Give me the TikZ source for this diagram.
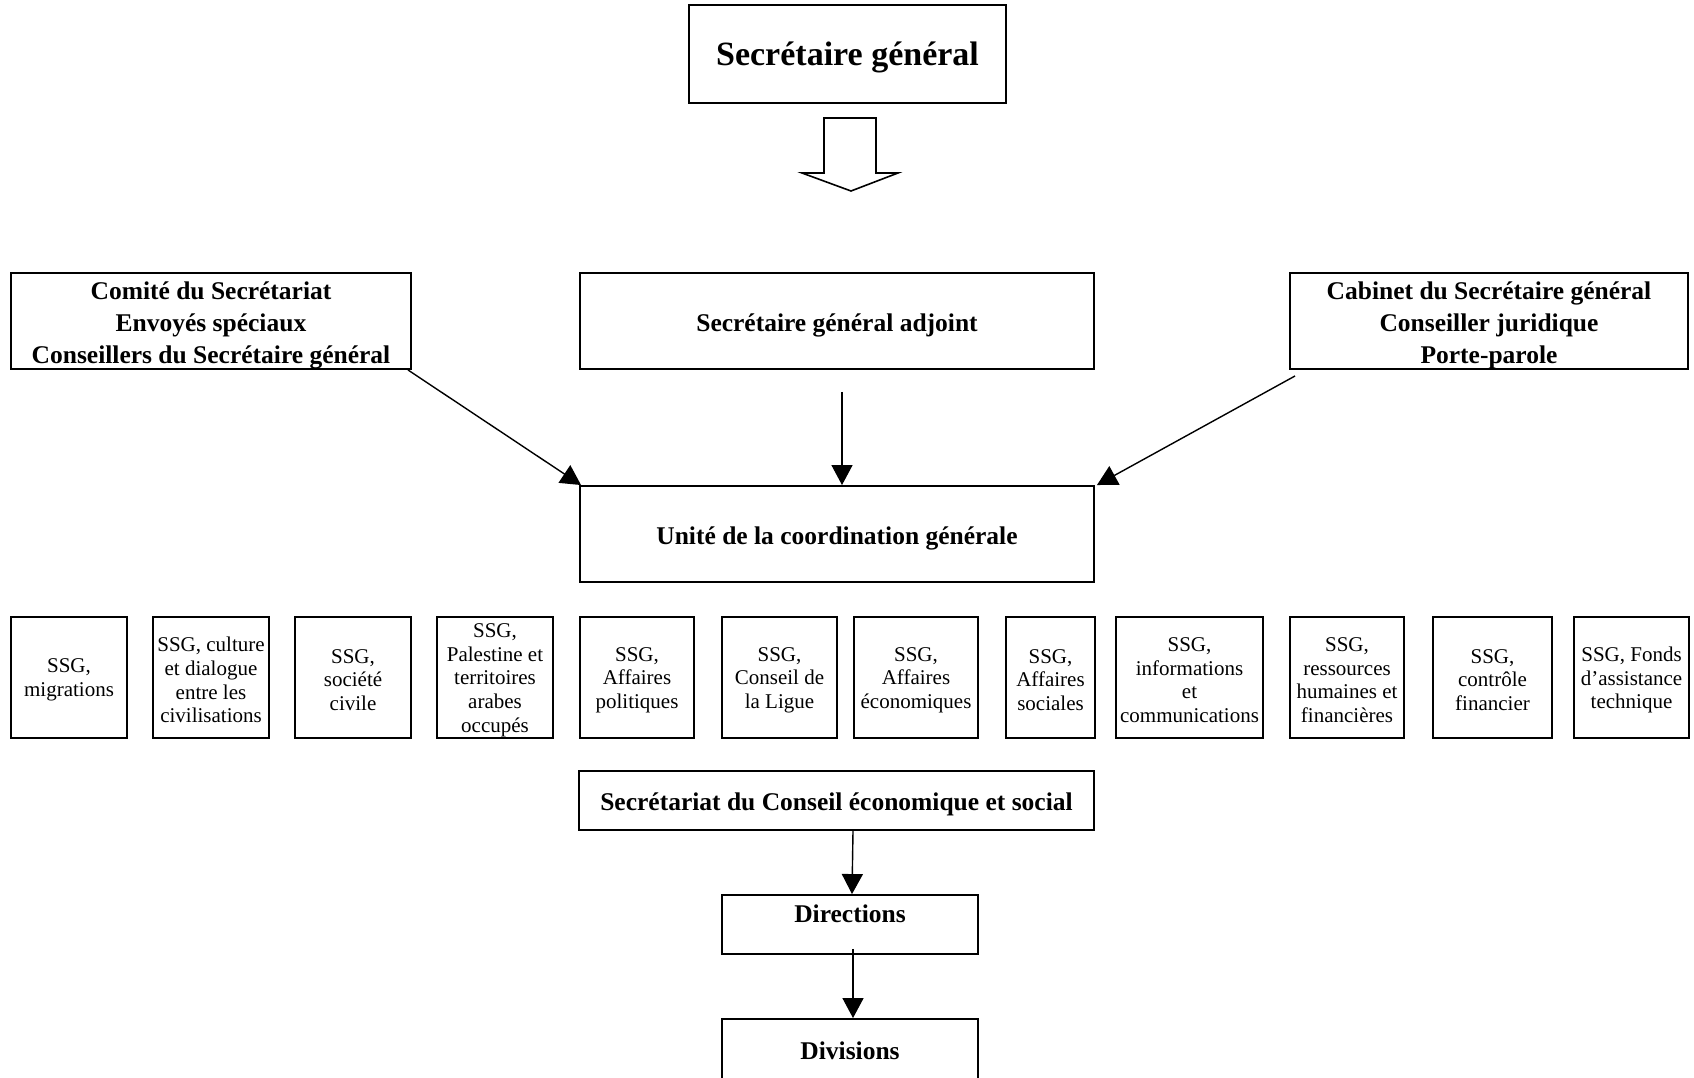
\documentclass[tikz,border=0pt]{standalone}
\usepackage{fontspec}
\setmainfont{Liberation Serif}
\usetikzlibrary{arrows.meta}
\begin{document}
\begin{tikzpicture}[x=1pt,y=-1pt,
  bx/.style n args={2}{draw,line width=1.9pt,inner sep=0pt,
     minimum width=#1 pt,minimum height=#2 pt},
  txt/.style={inner sep=0pt,align=center},
  bold/.style={txt,font=\bfseries\fontsize{25.5}{32}\selectfont,yshift=-4.3pt},
  small/.style={txt,font=\fontsize{21}{23.6}\selectfont,yshift=-2.6pt},
  arr/.style={line width=1.4pt,-{Triangle[length=20pt,width=21pt]}}]
\useasboundingbox (0,0) rectangle (1694,1078);
\fill[white] (0,0) rectangle (1694,1078);
\clip (0,0) rectangle (1694,1078);

% top
\node[bx={317}{98}] (sg) at (847.5,54) {};
\node[txt,font=\bfseries\fontsize{34}{40}\selectfont,yshift=-3.2pt] (sgT) at (sg) {Secrétaire général};
\draw[line width=1.6pt] (824,118) -- (876,118) -- (876,173) -- (898,173) -- (851,191)
   -- (802,173) -- (824,173) -- cycle;

% second row
\node[bx={400}{96}] (com) at (211,321) {};
\node[bold] (comT) at (com) {Comité du Secrétariat\\Envoyés spéciaux\\Conseillers du Secrétaire général};
\node[bx={514}{96}] (sga) at (837,321) {};
\node[bold] (sgaT) at (sga) {Secrétaire général adjoint};
\node[bx={398}{96}] (cab) at (1489,321) {};
\node[bold] (cabT) at (cab) {Cabinet du Secrétaire général\\Conseiller juridique\\Porte-parole};

\node[bx={514}{96}] (uni) at (837,534) {};
\node[bold] (uniT) at (uni) {Unité de la coordination générale};

% SSG row
\node[bx={116}{121}] (s1) at (69,677.5) {};
\node[small] (s1T) at (s1) {SSG,\\migrations};
\node[bx={116}{121}] (s2) at (211,677.5) {};
\node[small] (s2T) at (s2) {SSG, culture\\et dialogue\\entre les\\civilisations};
\node[bx={116}{121}] (s3) at (353,677.5) {};
\node[small] (s3T) at (s3) {SSG,\\société\\civile};
\node[bx={116}{121}] (s4) at (495,677.5) {};
\node[small] (s4T) at (s4) {SSG,\\Palestine et\\territoires\\arabes\\occupés};
\node[bx={114}{121}] (s5) at (637,677.5) {};
\node[small] (s5T) at (s5) {SSG,\\Affaires\\politiques};
\node[bx={115}{121}] (s6) at (779.5,677.5) {};
\node[small] (s6T) at (s6) {SSG,\\Conseil de\\la Ligue};
\node[bx={124}{121}] (s7) at (916,677.5) {};
\node[small] (s7T) at (s7) {SSG,\\Affaires\\économiques};
\node[bx={89}{121}] (s8) at (1050.5,677.5) {};
\node[small] (s8T) at (s8) {SSG,\\Affaires\\sociales};
\node[bx={147}{121}] (s9) at (1189.5,677.5) {};
\node[small] (s9T) at (s9) {SSG,\\informations\\et\\communications};
\node[bx={114}{121}] (s10) at (1347,677.5) {};
\node[small] (s10T) at (s10) {SSG,\\ressources\\humaines et\\financières};
\node[bx={119}{121}] (s11) at (1492.5,677.5) {};
\node[small] (s11T) at (s11) {SSG,\\contrôle\\financier};
\node[bx={115}{121}] (s12) at (1631.5,677.5) {};
\node[small] (s12T) at (s12) {SSG, Fonds\\d’assistance\\technique};

% bottom
\node[bx={515}{59}] (sec) at (836.5,800.5) {};
\node[bold] (secT) at (sec) {Secrétariat du Conseil économique et social};
\node[bx={256}{59},font=\bfseries\fontsize{25.5}{32}\selectfont,text height=18pt,text depth=23pt] (dir) at (850,924.5) {Directions};
\node[bx={256}{66},font=\bfseries\fontsize{25.5}{32}\selectfont,text height=18pt,text depth=4pt] (div) at (850,1052) {Divisions};

% connectors
\draw[arr] ([xshift=-4pt]com.south east) -- ([xshift=2pt]uni.north west);
\draw[arr] ([xshift=5pt,yshift=-22pt]sga.south) -- ([xshift=5pt]uni.north);
\draw[arr] ([xshift=6pt,yshift=-6pt]cab.south west) -- ([xshift=2pt]uni.north east);
\draw[arr] ([xshift=16.5pt]sec.south) -- ([xshift=2pt]dir.north);
\draw[arr] ([xshift=3pt,yshift=6pt]dir.south) -- ([xshift=3pt]div.north);
\end{tikzpicture}
\end{document}
